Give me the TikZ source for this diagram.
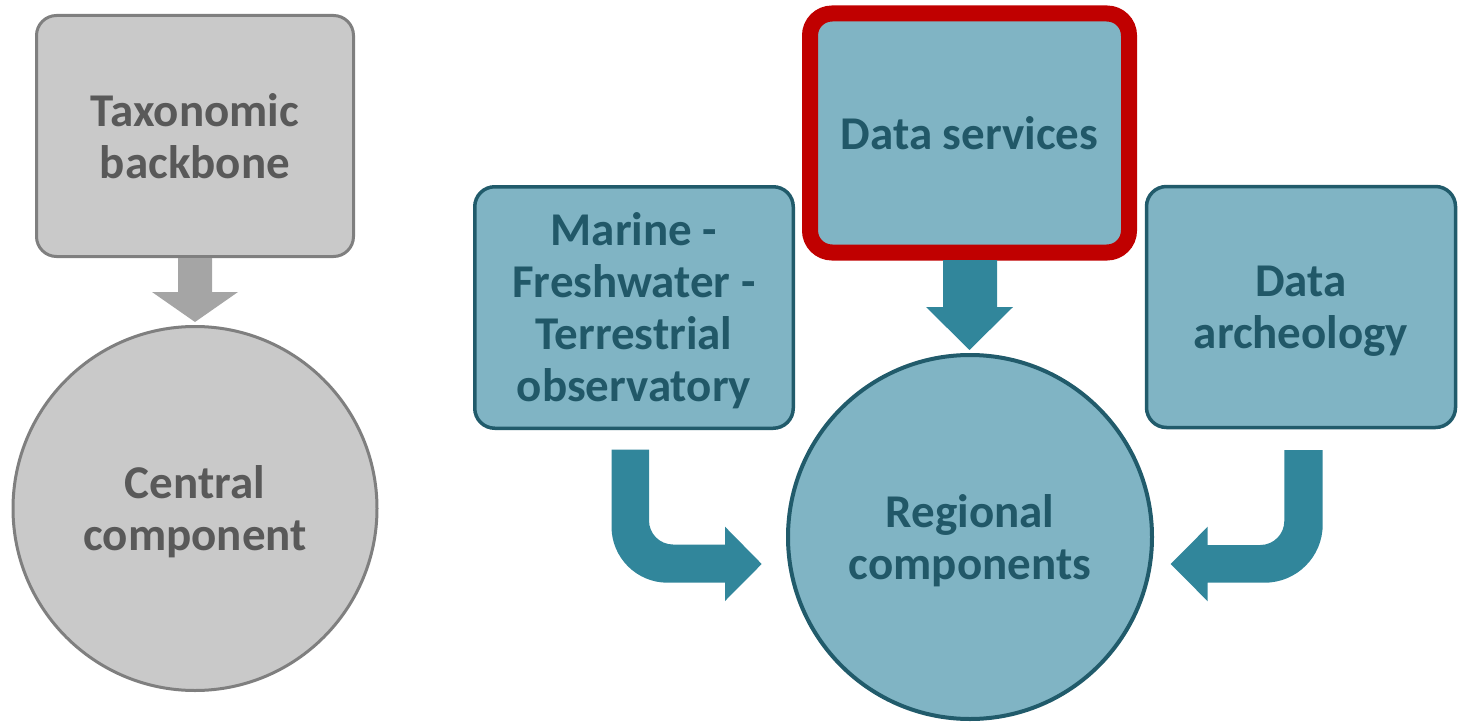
\documentclass[tikz,border=0pt]{standalone}
\usepackage{fontspec}
\setmainfont{Carlito}
\usetikzlibrary{calc}
\definecolor{grayfill}{HTML}{C9C9C9}
\definecolor{grayline}{HTML}{7F7F7F}
\definecolor{graytext}{HTML}{595959}
\definecolor{grayarrow}{HTML}{A5A5A5}
\definecolor{tealfill}{HTML}{80B4C4}
\definecolor{tealline}{HTML}{215B6B}
\definecolor{tealtext}{HTML}{215868}
\definecolor{tealarrow}{HTML}{31869B}
\definecolor{redline}{HTML}{C00000}
\tikzset{
  lbl/.style={font=\fontsize{47}{52}\selectfont\bfseries, align=center, text depth=0pt, inner sep=0pt},
  graybox/.style={lbl, rectangle, rounded corners=20pt, draw=grayline, line width=3pt, fill=grayfill, text=graytext},
  graycirc/.style={lbl, circle, draw=grayline, line width=3pt, fill=grayfill, text=graytext},
  tealbox/.style={lbl, rectangle, rounded corners=20pt, draw=tealline, line width=3.5pt, fill=tealfill, text=tealtext},
  tealcirc/.style={lbl, circle, draw=tealline, line width=4pt, fill=tealfill, text=tealtext},
  redbox/.style={tealbox, draw=redline, line width=16pt, rounded corners=22pt},
  grayblock/.style={fill=grayarrow},
  tealblock/.style={fill=tealarrow}
}
\begin{document}
\begin{tikzpicture}[x=1pt, y=-1pt]
\useasboundingbox (0,0) rectangle (1459,725);

% left (gray) part
\node[graybox, minimum width=317pt, minimum height=241pt] (tax) at (195,136) {Taxonomic\\backbone};
\node[graycirc, minimum size=364pt] (central) at (195,508.5) {Central\\component};

% right (teal) part
\node[tealbox, minimum width=318.5pt, minimum height=241.5pt] (marine) at (634,307.5) {Marine -\\Freshwater -\\Terrestrial\\observatory};
\node[redbox, minimum width=319pt, minimum height=239pt] (ds) at (969.5,133) {Data services};
\node[tealbox, minimum width=309pt, minimum height=241pt] (arch) at (1301,307) {Data\\archeology};
\node[tealcirc, minimum size=364pt, text depth=-6pt] (reg) at (970,537) {Regional\\components};

% gray block arrow: tax -> central
\fill[grayblock] (178,258) -- (212,258) -- (212,292) -- (238,292) -- (195,322)
  -- (152,292) -- (178,292) -- cycle;

% teal block arrow: ds -> reg
\fill[tealblock] (943,260) -- (997,260) -- (997,307) -- (1013,307) -- (969.5,350)
  -- (926,307) -- (943,307) -- cycle;

% bent arrow: marine -> reg
\fill[tealblock] (611.5,449.5) -- (649,449.5) -- (649,520.5)
  .. controls (649,533.75) and (659.75,544.5) .. (673,544.5)
  -- (725,544.5) -- (725,526.7) -- (761.7,564) -- (725,601) -- (725,582.7)
  -- (667.5,582.7) .. controls (636.6,582.7) and (611.5,557.6) .. (611.5,526.7) -- cycle;

% bent arrow: arch -> reg
\fill[tealblock] (1322.7,450) -- (1284.3,450) -- (1284.3,521)
  .. controls (1284.3,534.25) and (1273.55,545) .. (1260.3,545)
  -- (1207.7,545) -- (1207.7,526.7) -- (1170.7,564) -- (1207.7,601.3) -- (1207.7,582.7)
  -- (1264.7,582.7) .. controls (1296.7,582.7) and (1322.7,556.7) .. (1322.7,524.7) -- cycle;
\end{tikzpicture}
\end{document}
